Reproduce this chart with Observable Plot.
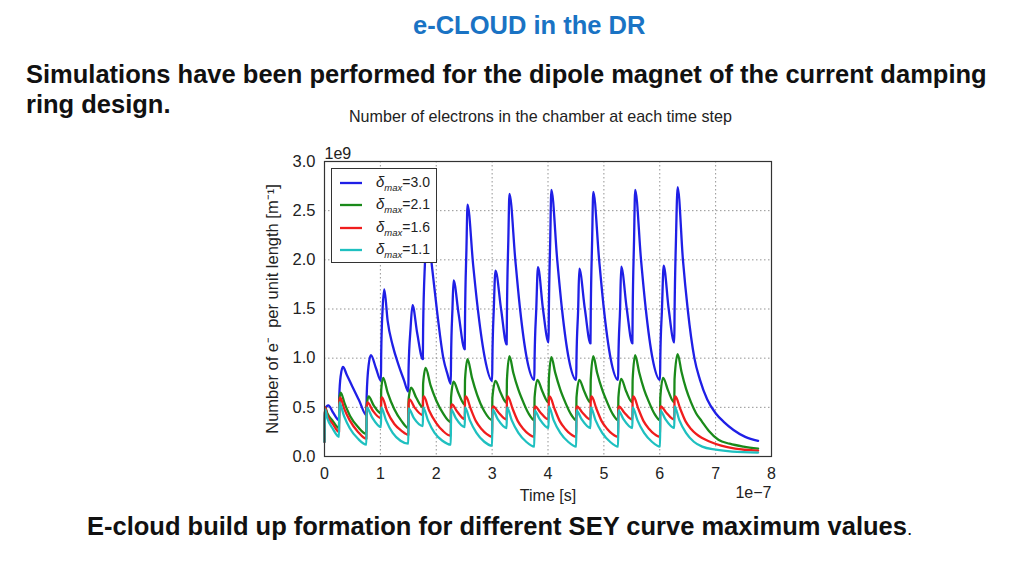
<!DOCTYPE html>
<html>
<head>
<meta charset="utf-8">
<script src="https://cdn.jsdelivr.net/npm/d3@7"></script>
<script src="https://cdn.jsdelivr.net/npm/@observablehq/plot@0.6"></script>
<style>
  html, body { margin: 0; padding: 0; background: #fff; }
  #page { position: relative; width: 1024px; height: 576px; overflow: hidden; font-family: "Liberation Sans", Arial, sans-serif; }
  .abs { position: absolute; white-space: nowrap; }
  #title { left: 413px; top: 10px; font-size: 25.5px; font-weight: bold; color: #1a73c4; line-height: 30px; }
  #intro { left: 26px; top: 59px; font-size: 25.5px; font-weight: bold; color: #111; line-height: 30px; }
  #caption { left: 87px; top: 511px; font-size: 25.5px; font-weight: bold; color: #111; line-height: 30px; }
  #caption span { font-weight: normal; font-size: 19px; }
  #ctitle { left: 349px; top: 107px; font-size: 16.1px; color: #222; }
  #chart { position: absolute; left: 250px; top: 140px; }
  #legend { left: 331px; top: 168px; width: 106px; height: 95px; border: 1.3px solid #333; background: #fff; box-sizing: border-box; }
  .lrow { position: absolute; left: 8px; height: 20px; display: flex; align-items: center; font-size: 14px; color: #222; }
  .lrow svg { margin-right: 14px; }
  .lrow i { font-size: 15px; }
  .lrow i sub { font-size: 9.5px; }
</style>
</head>
<body>
<div id="page">
  <div id="title" class="abs">e-CLOUD in the DR</div>
  <div id="intro" class="abs">Simulations have been performed for the dipole magnet of the current damping<br>ring design.</div>
  <div id="ctitle" class="abs">Number of electrons in the chamber at each time step</div>
  <div id="chart"></div>
  <div id="legend" class="abs"></div>
  <div id="caption" class="abs">E-cloud build up formation for different SEY curve maximum values<span>.</span></div>
</div>
<script>
// ---- data (time in units of 1e-7 s, electrons in units of 1e9 per m) ----
const seriesLabels = ["3.0", "2.1", "1.6", "1.1"];
const seriesColors = ["#1f1fe6", "#1a8a1a", "#f01d1d", "#1fc0c0"];
const xTicks = [0, 1, 2, 3, 4, 5, 6, 7, 8];
const yTicks = [0, 0.5, 1.0, 1.5, 2.0, 2.5, 3.0];

const blue = [
  [0.00,0.15],[0.01,0.45],[0.04,0.51],[0.07,0.52],[0.15,0.45],[0.26,0.37],
  [0.265,0.62],[0.29,0.82],[0.33,0.91],[0.40,0.83],[0.50,0.71],[0.62,0.57],[0.75,0.42],
  [0.755,0.62],[0.79,0.93],[0.83,1.03],[0.92,0.90],[1.01,0.77],
  [1.015,1.05],[1.04,1.50],[1.07,1.70],[1.13,1.38],[1.22,1.13],[1.32,0.94],[1.42,0.78],[1.50,0.66],
  [1.505,0.90],[1.54,1.30],[1.575,1.54],[1.66,1.25],[1.76,0.99],
  [1.765,1.30],[1.80,2.00],[1.83,2.40],[1.92,1.95],[2.02,1.45],[2.13,0.99],[2.20,0.84],[2.26,0.74],
  [2.265,1.00],[2.29,1.50],[2.31,1.79],[2.40,1.45],[2.51,1.09],
  [2.515,1.40],[2.54,2.10],[2.56,2.56],[2.66,1.95],[2.75,1.47],[2.87,1.00],[3.00,0.77],
  [3.005,1.00],[3.03,1.50],[3.06,1.89],[3.16,1.50],[3.26,1.14],
  [3.265,1.45],[3.29,2.20],[3.31,2.67],[3.415,2.00],[3.50,1.50],[3.62,1.00],[3.755,0.78],
  [3.76,1.00],[3.79,1.50],[3.82,1.925],[3.91,1.50],[4.01,1.16],
  [4.015,1.45],[4.04,2.20],[4.06,2.71],[4.165,2.00],[4.25,1.50],[4.37,1.00],[4.505,0.78],
  [4.51,1.00],[4.54,1.50],[4.56,1.91],[4.66,1.50],[4.76,1.15],
  [4.765,1.45],[4.79,2.20],[4.81,2.69],[4.915,2.00],[5.00,1.50],[5.12,1.00],[5.255,0.78],
  [5.26,1.00],[5.29,1.50],[5.31,1.93],[5.41,1.50],[5.51,1.15],
  [5.515,1.45],[5.54,2.20],[5.56,2.71],[5.665,2.00],[5.75,1.50],[5.87,1.00],[6.005,0.78],
  [6.01,1.00],[6.04,1.50],[6.07,1.94],[6.16,1.50],[6.26,1.16],
  [6.265,1.45],[6.29,2.20],[6.32,2.74],[6.415,2.00],[6.50,1.50],[6.62,1.00],[6.72,0.78],
  [6.85,0.58],[7.00,0.44],[7.15,0.35],[7.32,0.27],[7.53,0.20],[7.76,0.16]
];
const green = [
  [0.00,0.15],[0.01,0.50],[0.05,0.44],[0.15,0.36],[0.26,0.29],
  [0.265,0.58],[0.29,0.65],[0.36,0.54],[0.46,0.41],[0.60,0.30],[0.75,0.23],
  [0.755,0.52],[0.79,0.61],[0.88,0.52],[1.01,0.44],
  [1.015,0.68],[1.05,0.80],[1.13,0.65],[1.25,0.48],[1.38,0.36],[1.50,0.29],
  [1.505,0.58],[1.55,0.70],[1.64,0.60],[1.76,0.50],
  [1.765,0.74],[1.81,0.90],[1.90,0.72],[2.00,0.57],[2.12,0.44],[2.26,0.35],
  [2.265,0.60],[2.31,0.76],[2.40,0.64],[2.51,0.53],
  [2.515,0.78],[2.56,0.99],[2.64,0.80],[2.73,0.63],[2.86,0.46],[3.00,0.37],
  [3.005,0.60],[3.06,0.77],[3.15,0.65],[3.26,0.545],
  [3.265,0.78],[3.31,1.02],[3.38,0.85],[3.47,0.68],[3.56,0.55],[3.65,0.44],[3.755,0.37],
  [3.76,0.60],[3.81,0.78],[3.90,0.66],[4.01,0.55],
  [4.015,0.78],[4.06,1.01],[4.13,0.85],[4.22,0.68],[4.31,0.55],[4.40,0.44],[4.505,0.37],
  [4.51,0.60],[4.56,0.78],[4.65,0.66],[4.76,0.55],
  [4.765,0.78],[4.81,1.02],[4.88,0.85],[4.97,0.68],[5.06,0.55],[5.15,0.44],[5.255,0.37],
  [5.26,0.60],[5.31,0.79],[5.40,0.66],[5.51,0.55],
  [5.515,0.78],[5.56,1.03],[5.63,0.86],[5.72,0.68],[5.81,0.55],[5.90,0.44],[6.005,0.37],
  [6.01,0.60],[6.06,0.80],[6.15,0.67],[6.26,0.55],
  [6.265,0.79],[6.32,1.04],[6.39,0.86],[6.47,0.69],[6.56,0.55],[6.65,0.44],[6.75,0.36],
  [6.88,0.26],[7.05,0.17],[7.25,0.13],[7.50,0.10],[7.76,0.08]
];
const red = [
  [0.00,0.15],[0.01,0.50],[0.05,0.42],[0.15,0.33],[0.26,0.25],
  [0.265,0.55],[0.28,0.60],[0.35,0.49],[0.45,0.37],[0.60,0.25],[0.75,0.18],
  [0.755,0.50],[0.77,0.55],[0.86,0.47],[1.01,0.39],
  [1.015,0.57],[1.03,0.60],[1.12,0.46],[1.25,0.33],[1.38,0.26],[1.50,0.22],
  [1.505,0.53],[1.52,0.58],[1.61,0.50],[1.76,0.42],
  [1.765,0.58],[1.78,0.61],[1.87,0.47],[2.00,0.34],[2.12,0.26],[2.26,0.21],
  [2.265,0.50],[2.28,0.53],[2.37,0.46],[2.51,0.38],
  [2.515,0.57],[2.53,0.61],[2.62,0.48],[2.71,0.36],[2.81,0.28],[2.90,0.23],[3.00,0.20],
  [3.005,0.49],[3.02,0.51],[3.11,0.45],[3.26,0.375],
  [3.265,0.57],[3.28,0.61],[3.37,0.48],[3.46,0.36],[3.56,0.28],[3.65,0.23],[3.755,0.20],
  [3.76,0.49],[3.77,0.51],[3.86,0.45],[4.01,0.375],
  [4.015,0.57],[4.03,0.61],[4.12,0.48],[4.21,0.36],[4.31,0.28],[4.40,0.23],[4.505,0.20],
  [4.51,0.49],[4.52,0.51],[4.61,0.45],[4.76,0.375],
  [4.765,0.57],[4.78,0.61],[4.87,0.48],[4.96,0.36],[5.06,0.28],[5.15,0.23],[5.255,0.20],
  [5.26,0.49],[5.27,0.51],[5.36,0.45],[5.51,0.375],
  [5.515,0.57],[5.53,0.61],[5.62,0.48],[5.71,0.36],[5.81,0.28],[5.90,0.23],[6.005,0.20],
  [6.01,0.49],[6.02,0.51],[6.11,0.45],[6.26,0.375],
  [6.265,0.57],[6.28,0.61],[6.37,0.48],[6.46,0.36],[6.56,0.28],[6.65,0.23],[6.75,0.19],
  [6.90,0.15],[7.10,0.11],[7.35,0.08],[7.76,0.06]
];
const cyan = [
  [0.00,0.15],[0.01,0.48],[0.05,0.39],[0.15,0.28],[0.26,0.20],
  [0.265,0.55],[0.35,0.41],[0.45,0.29],[0.60,0.18],[0.75,0.12],
  [0.755,0.50],[0.85,0.40],[1.01,0.30],
  [1.015,0.50],[1.10,0.37],[1.22,0.24],[1.36,0.16],[1.50,0.13],
  [1.505,0.49],[1.60,0.39],[1.76,0.31],
  [1.765,0.50],[1.85,0.37],[1.97,0.24],[2.11,0.16],[2.26,0.12],
  [2.265,0.48],[2.35,0.39],[2.51,0.30],
  [2.515,0.50],[2.60,0.37],[2.72,0.24],[2.86,0.15],[3.00,0.11],
  [3.005,0.48],[3.10,0.38],[3.26,0.29],
  [3.265,0.50],[3.35,0.37],[3.47,0.24],[3.61,0.15],[3.755,0.10],
  [3.76,0.47],[3.85,0.38],[4.01,0.29],
  [4.015,0.51],[4.10,0.37],[4.22,0.24],[4.36,0.15],[4.505,0.10],
  [4.51,0.47],[4.60,0.38],[4.76,0.29],
  [4.765,0.50],[4.85,0.37],[4.97,0.24],[5.11,0.15],[5.255,0.10],
  [5.26,0.47],[5.35,0.38],[5.51,0.29],
  [5.515,0.50],[5.60,0.37],[5.72,0.24],[5.86,0.15],[6.005,0.10],
  [6.01,0.47],[6.10,0.38],[6.26,0.29],
  [6.265,0.51],[6.35,0.37],[6.47,0.24],[6.61,0.15],[6.76,0.10],
  [7.00,0.07],[7.30,0.05],[7.76,0.04]
];
const seriesData = [blue, green, red, cyan];

// ---- chart ----
const font = "'Liberation Sans', Arial, sans-serif";
const lineMarks = seriesData.map((d, i) =>
  Plot.line(d, {x: p => p[0], y: p => p[1], stroke: seriesColors[i], strokeWidth: 2.3, strokeLinejoin: "round", curve: "monotone-x"})
);

const chart = Plot.plot({
  width: 540,
  height: 370,
  marginLeft: 74,
  marginRight: 19,
  marginTop: 21,
  marginBottom: 54,
  style: {fontFamily: font, fontSize: "16px", color: "#222", background: "transparent", overflow: "visible"},
  x: {domain: [0, 8]},
  y: {domain: [0, 3]},
  marks: [
    Plot.gridX(xTicks, {stroke: "#888", strokeOpacity: 0.9, strokeDasharray: "1.5,2.5"}),
    Plot.gridY(yTicks, {stroke: "#888", strokeOpacity: 0.9, strokeDasharray: "1.5,2.5"}),
    ...lineMarks,
    Plot.frame({stroke: "#333", strokeWidth: 1.2}),
    Plot.axisX(xTicks, {tickSize: 0, tickPadding: 11, tickFormat: d3.format("d"), label: "Time [s]", labelAnchor: "center", labelArrow: "none", labelOffset: 44, fontSize: 16}),
    Plot.axisY(yTicks, {tickSize: 0, tickPadding: 9, tickFormat: d3.format(".1f"), label: "Number of e\u207B  per unit length [m\u207B\u00B9]", labelAnchor: "center", labelArrow: "none", labelOffset: 58, fontSize: 16.5}),
    Plot.text(["1e9"], {frameAnchor: "top-left", text: d => d, dy: -3, textAnchor: "start", fontSize: 16, lineAnchor: "bottom"}),
    Plot.text(["1e\u22127"], {frameAnchor: "bottom-right", text: d => d, dy: 36, dx: 0, textAnchor: "end", fontSize: 16, lineAnchor: "middle"})
  ]
});
document.getElementById("chart").appendChild(chart);

// ---- legend ----
const legend = document.getElementById("legend");
seriesLabels.forEach((lab, i) => {
  const row = document.createElement("div");
  row.className = "lrow";
  row.style.top = (4 + i * 22.3) + "px";
  row.innerHTML = `<svg width="22" height="6"><line x1="0" y1="3" x2="22" y2="3" stroke="${seriesColors[i]}" stroke-width="2.3"/></svg><span><i>δ<sub>max</sub></i>=${lab}</span>`;
  legend.appendChild(row);
});
</script>
</body>
</html>
